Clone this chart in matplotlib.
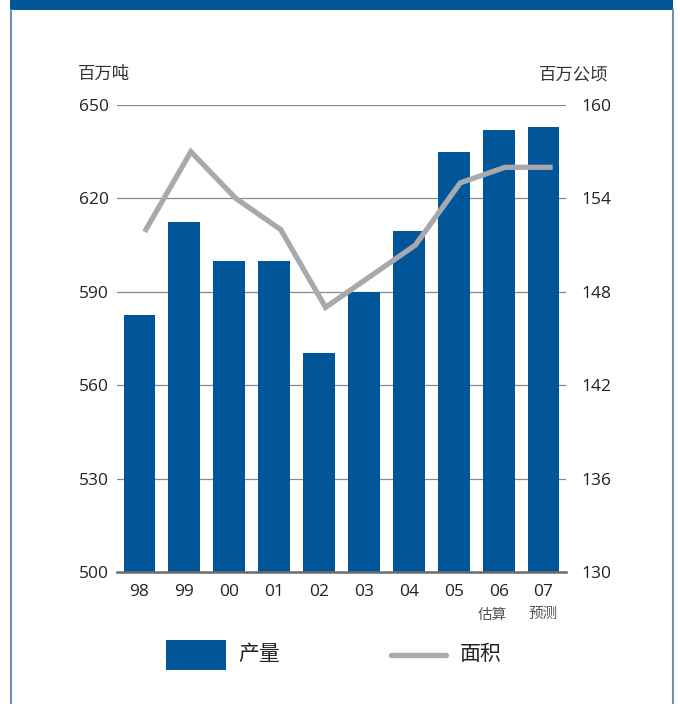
import matplotlib.pyplot as plt
from matplotlib.patches import Rectangle
from matplotlib.lines import Line2D
import numpy as np

plt.rcParams["font.family"] = ["Open Sans", "Noto Sans CJK SC", "DejaVu Sans"]

years = ["98", "99", "00", "01", "02", "03", "04", "05", "06", "07"]
notes = ["", "", "", "", "", "", "", "", "估算", "预测"]
production = [582.5, 612.5, 600, 600, 570.5, 590, 609.5, 635, 642, 643]   # 百万吨
area = [152, 157, 154, 152, 147, 149, 151, 155, 156, 156]                  # 百万公顷

left_ticks = [500, 530, 560, 590, 620, 650]
right_ticks = [130, 136, 142, 148, 154, 160]

blue = "#01569a"
grey = "#a7a9ac"

W, H = 680, 704
fig = plt.figure(figsize=(W / 100, H / 100), dpi=100)

# header band and side rules
fig.add_artist(Rectangle((10 / W, 694 / H), 663 / W, 10 / H, transform=fig.transFigure,
                         color=blue, lw=0))
for xp in (10.5, 672.5):
    fig.add_artist(Line2D([xp / W, xp / W], [0, 694 / H], transform=fig.transFigure,
                          color="#6f8fb3", lw=1.5))

ax = fig.add_axes([117 / W, 1 - 572 / H, 449 / W, 467 / H])
x = np.arange(len(years))
ax.bar(x, production, width=0.71, color=blue, zorder=2)
ax.set_xlim(-0.5, len(years) - 0.5)
ax.set_ylim(500, 650)
ax.set_yticks(left_ticks)
ax.set_xticks(x)
ax.set_xticklabels(years)
for yv in left_ticks[1:]:
    ax.axhline(yv, color="#8a8a8a", lw=0.9, zorder=1)
ax.axhline(500, color="#6b6b6b", lw=1.8, zorder=3, clip_on=False)
for s in ax.spines.values():
    s.set_visible(False)
ax.tick_params(axis="both", length=0, labelsize=12.5, colors="#222222")
ax.tick_params(axis="y", pad=6)
ax.tick_params(axis="x", pad=9)

for xi, note in zip(x, notes):
    if note:
        shift = -0.15 if note == "估算" else 0.0
        ax.text(xi + shift, -0.092, note, transform=ax.get_xaxis_transform(), ha="center",
                va="center", fontsize=10.5, color="#555555")

# area line sits slightly right of the bar centres
ax2 = ax.twinx()
ax2.plot(x + 0.145, area, color=grey, lw=3.8, solid_joinstyle="miter", zorder=4)
ax2.set_ylim(130, 160)
ax2.set_yticks(right_ticks)
for s in ax2.spines.values():
    s.set_visible(False)
ax2.tick_params(axis="y", length=0, labelsize=12.5, colors="#222222", pad=11)

fig.text(78 / W, 1 - 75 / H, "百万吨", ha="left", va="center", fontsize=12.5, color="#333333")
fig.text(608 / W, 1 - 75 / H, "百万公顷", ha="right", va="center", fontsize=12.5, color="#333333")

# legend
fig.add_artist(Rectangle((166 / W, 1 - 670 / H), 60 / W, 30 / H, transform=fig.transFigure,
                         color=blue, lw=0))
fig.text(238 / W, 1 - 655 / H, "产量", ha="left", va="center", fontsize=15, color="#222222")
fig.add_artist(Line2D([391 / W, 446 / W], [1 - 655 / H, 1 - 655 / H], transform=fig.transFigure,
                      color=grey, lw=3.8, solid_capstyle="round"))
fig.text(460 / W, 1 - 655 / H, "面积", ha="left", va="center", fontsize=15, color="#222222")

fig.savefig("out.png", dpi=100)
